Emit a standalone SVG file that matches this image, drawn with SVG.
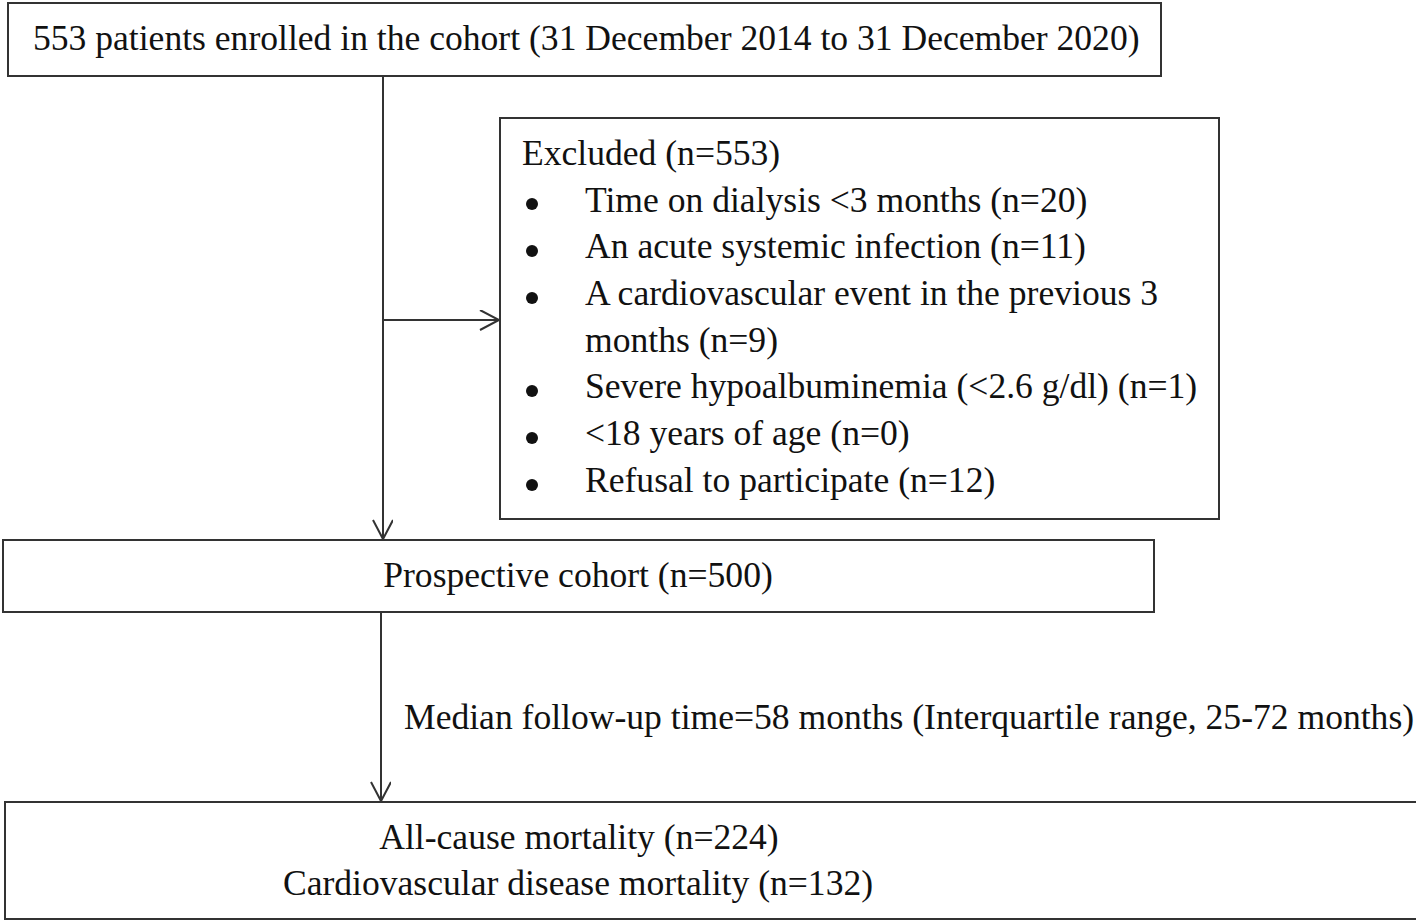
<svg xmlns="http://www.w3.org/2000/svg" width="1416" height="922" viewBox="0 0 1416 922">
<style>
.box{fill:#fff;stroke:#333;stroke-width:2}
.ln{fill:none;stroke:#333;stroke-width:2}
text{font-family:"Liberation Serif","Times New Roman",serif;font-size:35.6px;fill:#111}
.c{text-anchor:middle}
.b{fill:#111}
</style>
<defs>
<marker id="ah" markerWidth="24" markerHeight="24" refX="20" refY="10" orient="auto" markerUnits="userSpaceOnUse">
<path d="M1,0 L20,10 L1,20" fill="none" stroke="#333" stroke-width="2"/>
</marker>
</defs>
<rect width="1416" height="922" fill="#fff"/>
<g id="connectors">
<line class="ln" x1="383" y1="76" x2="383" y2="539" marker-end="url(#ah)"/>
<line class="ln" x1="383" y1="320" x2="499" y2="320" marker-end="url(#ah)"/>
<line class="ln" x1="381" y1="612" x2="381" y2="801" marker-end="url(#ah)"/>
<text x="404" y="729">Median follow-up time=58 months (Interquartile range, 25-72 months)</text>
</g>
<g id="enrolled">
<rect class="box" x="8" y="3" width="1153" height="73"/>
<text x="33" y="50">553 patients enrolled in the cohort (31 December 2014 to 31 December 2020)</text>
</g>
<g id="excluded">
<rect class="box" x="500" y="118" width="719" height="401"/>
<text x="522" y="165">Excluded (n=553)</text>
<circle class="b" cx="532" cy="204" r="6"/>
<text x="585" y="211.5">Time on dialysis &lt;3 months (n=20)</text>
<circle class="b" cx="532" cy="251" r="6"/>
<text x="585" y="258">An acute systemic infection (n=11)</text>
<circle class="b" cx="532" cy="298" r="6"/>
<text x="585" y="305">A cardiovascular event in the previous 3</text>
<text x="585" y="351.5">months (n=9)</text>
<circle class="b" cx="532" cy="391" r="6"/>
<text x="585" y="398">Severe hypoalbuminemia (&lt;2.6 g/dl) (n=1)</text>
<circle class="b" cx="532" cy="438" r="6"/>
<text x="585" y="445">&lt;18 years of age (n=0)</text>
<circle class="b" cx="532" cy="485" r="6"/>
<text x="585" y="492">Refusal to participate (n=12)</text>
</g>
<g id="prospective">
<rect class="box" x="3" y="540" width="1151" height="72"/>
<text class="c" x="578" y="587">Prospective cohort (n=500)</text>
</g>
<g id="mortality">
<rect class="box" x="5" y="802" width="1430" height="117"/>
<text class="c" x="579" y="849">All-cause mortality (n=224)</text>
<text class="c" x="578" y="895">Cardiovascular disease mortality (n=132)</text>
</g>
</svg>
